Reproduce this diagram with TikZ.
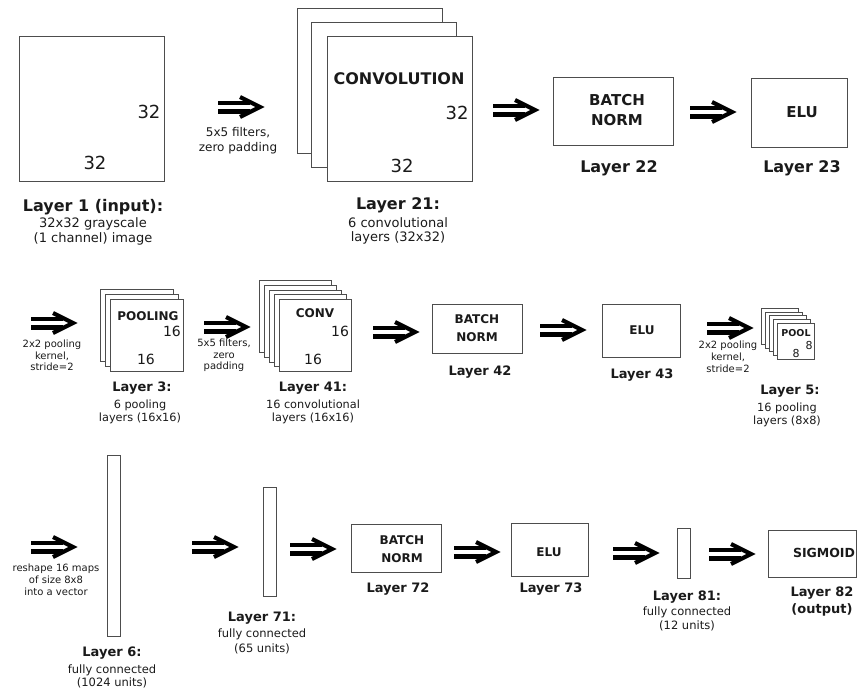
\documentclass[tikz,border=0pt]{standalone}
\usepackage{fontspec}
\setmainfont{DejaVu Sans}
\definecolor{edge}{HTML}{4D4D4D}
\definecolor{ink}{HTML}{1A1A1A}
\newcommand\fsz[2]{\fontsize{#1}{#2}\selectfont}
\tikzset{
  box/.style={draw=edge, line width=1.1pt, fill=white, anchor=north west, inner sep=0pt},
  txt/.style={inner sep=0pt, align=center, text=ink},
  num/.style={txt, font=\fsz{18}{18}},
  numm/.style={txt, font=\fsz{14}{14}},
  title/.style={txt, font={\bfseries\fsz{16}{16}}},
  titlem/.style={txt, font={\bfseries\fsz{13}{13}}},
  fatarrow/.pic={
    \draw[line width=4.4pt, black] (0,-4.3) -- (32,-4.3) (0,4.3) -- (32,4.3);
    \draw[line width=4.2pt, black, line join=miter, miter limit=10] (22,-10) -- (42,0) -- (22,10);
  }
}
\begin{document}
\begin{tikzpicture}[x=1pt,y=-1pt]
\useasboundingbox (0,0) rectangle (857,691);
% ---------------- Row 1 ----------------
\node[box, minimum width=145, minimum height=145] (L1) at (19,36) {};
\node[num] (L1r) at (149,112) {32};
\node[num] (L1b) at (95,163) {32};
\node[title] (L1t) at (93,207) {Layer 1 (input):};
\node[txt, font=\fsz{13}{15}] (L1s) at (93,231.5) {32x32 grayscale\\(1 channel) image};
\pic (a1) at (218,107) {fatarrow};
\node[txt, font=\fsz{12}{15}] (a1c) at (238,140.5) {5x5 filters,\\zero padding};
\node[box, minimum width=145, minimum height=145] (C21a) at (297,8) {};
\node[box, minimum width=145, minimum height=145] (C21b) at (311,22) {};
\node[box, minimum width=145, minimum height=145] (C21) at (327,36) {};
\node[txt, font={\bfseries\fsz{16}{16}}] (C21n) at (399,79) {CONVOLUTION};
\node[num] (C21r) at (457,113) {32};
\node[num] (C21b2) at (402,166) {32};
\node[title] (C21t) at (398,205) {Layer 21:};
\node[txt, font=\fsz{13}{14}] (C21s) at (398,231) {6 convolutional\\layers (32x32)};
\pic (a2) at (493,110) {fatarrow};
\node[box, minimum width=120, minimum height=68] (L22) at (553,77) {};
\node[txt, font={\bfseries\fsz{15}{20}}] (L22n) at (617,110) {BATCH\\NORM};
\node[title] (L22t) at (619,168) {Layer 22};
\pic (a3) at (690,112) {fatarrow};
\node[box, minimum width=96, minimum height=69] (L23) at (751,78) {};
\node[txt, font={\bfseries\fsz{15}{15}}] (L23n) at (802,112) {ELU};
\node[title] (L23t) at (802,168) {Layer 23};
% ---------------- Row 2 ----------------
\pic (a4) at (31,323) {fatarrow};
\node[txt, font=\fsz{10}{11.5}] (a4c) at (52,355.5) {2x2 pooling\\kernel,\\stride=2};
\node[box, minimum width=73, minimum height=72] (P3a) at (100,289) {};
\node[box, minimum width=73, minimum height=72] (P3b) at (105,294) {};
\node[box, minimum width=73, minimum height=72] (P3) at (110,299) {};
\node[txt, font={\bfseries\fsz{12}{12}}] (P3n) at (148,316) {POOLING};
\node[numm] (P3r) at (172,331) {16};
\node[numm] (P3b2) at (146,359) {16};
\node[titlem] (P3t) at (142,388) {Layer 3:};
\node[txt, font=\fsz{11.3}{13}] (P3s) at (140,411.5) {6 pooling\\layers (16x16)};
\pic (a5) at (204,327) {fatarrow};
\node[txt, font=\fsz{10}{11.5}] (a5c) at (224,355.5) {5x5 filters,\\zero\\padding};
\node[box, minimum width=72, minimum height=72] (C41a) at (259,280) {};
\node[box, minimum width=72, minimum height=72] (C41b) at (264,285) {};
\node[box, minimum width=72, minimum height=72] (C41c) at (269,290) {};
\node[box, minimum width=72, minimum height=72] (C41d) at (274,294) {};
\node[box, minimum width=72, minimum height=72] (C41) at (279,299) {};
\node[txt, font={\bfseries\fsz{12}{12}}] (C41n) at (315,313) {CONV};
\node[numm] (C41r) at (340,331) {16};
\node[numm] (C41b2) at (313,359) {16};
\node[titlem] (C41t) at (313,388) {Layer 41:};
\node[txt, font=\fsz{11.3}{13}] (C41s) at (313,411.5) {16 convolutional\\layers (16x16)};
\pic (a6) at (373,332) {fatarrow};
\node[box, minimum width=90, minimum height=49] (L42) at (432,304) {};
\node[txt, font={\bfseries\fsz{12}{18}}] (L42n) at (477,328) {BATCH\\NORM};
\node[titlem] (L42t) at (480,372) {Layer 42};
\pic (a7) at (540,330) {fatarrow};
\node[box, minimum width=78, minimum height=53] (L43) at (602,304) {};
\node[txt, font={\bfseries\fsz{12}{12}}] (L43n) at (642,330) {ELU};
\node[titlem] (L43t) at (642,375) {Layer 43};
\pic (a8) at (707,328) {fatarrow};
\node[txt, font=\fsz{10}{12}] (a8c) at (728,357) {2x2 pooling\\kernel,\\stride=2};
\node[box, minimum width=37, minimum height=36] (P5a) at (761,308) {};
\node[box, minimum width=37, minimum height=36] (P5b) at (765,312) {};
\node[box, minimum width=37, minimum height=36] (P5c) at (769,315) {};
\node[box, minimum width=37, minimum height=36] (P5d) at (773,319) {};
\node[box, minimum width=37, minimum height=36] (P5) at (777,323) {};
\node[txt, font={\bfseries\fsz{9.5}{9.5}}] (P5n) at (796,333) {POOL};
\node[txt, font=\fsz{11}{11}] (P5r) at (809,345) {8};
\node[txt, font=\fsz{11}{11}] (P5b2) at (796,353) {8};
\node[titlem] (P5t) at (790,391) {Layer 5:};
\node[txt, font=\fsz{11.3}{13}] (P5s) at (787,414.5) {16 pooling\\layers (8x8)};
% ---------------- Row 3 ----------------
\pic (a9) at (31,547) {fatarrow};
\node[txt, font=\fsz{10}{12}] (a9c) at (56,580) {reshape 16 maps\\of size 8x8\\into a vector};
\node[box, minimum width=13, minimum height=181] (L6) at (107,455) {};
\node[titlem] (L6t) at (112,653) {Layer 6:};
\node[txt, font=\fsz{11.5}{13}] (L6s) at (112,676.5) {fully connected\\(1024 units)};
\pic (a10) at (192,547) {fatarrow};
\node[box, minimum width=13, minimum height=109] (L71) at (263,487) {};
\node[titlem] (L71t) at (262,618) {Layer 71:};
\node[txt, font=\fsz{11.5}{15}] (L71s) at (262,641.5) {fully connected\\(65 units)};
\pic (a11) at (290,549) {fatarrow};
\node[box, minimum width=90, minimum height=48] (L72) at (351,524) {};
\node[txt, font={\bfseries\fsz{12}{18}}] (L72n) at (402,549) {BATCH\\NORM};
\node[titlem] (L72t) at (398,589) {Layer 72};
\pic (a12) at (454,552) {fatarrow};
\node[box, minimum width=77, minimum height=53] (L73) at (511,523) {};
\node[txt, font={\bfseries\fsz{12}{12}}] (L73n) at (549,552) {ELU};
\node[titlem] (L73t) at (551,589) {Layer 73};
\pic (a13) at (613,553) {fatarrow};
\node[box, minimum width=13, minimum height=50] (L81) at (677,528) {};
\node[titlem] (L81t) at (687,597) {Layer 81:};
\node[txt, font=\fsz{11.5}{14}] (L81s) at (687,619) {fully connected\\(12 units)};
\pic (a14) at (709,554) {fatarrow};
\node[box, minimum width=88, minimum height=47] (L82) at (768,530) {};
\node[txt, font={\bfseries\fsz{12.5}{12.5}}] (L82n) at (824,553) {SIGMOID};
\node[txt, font={\bfseries\fsz{13}{17}}] (L82t) at (822,601.5) {Layer 82\\(output)};
\end{tikzpicture}
\end{document}
